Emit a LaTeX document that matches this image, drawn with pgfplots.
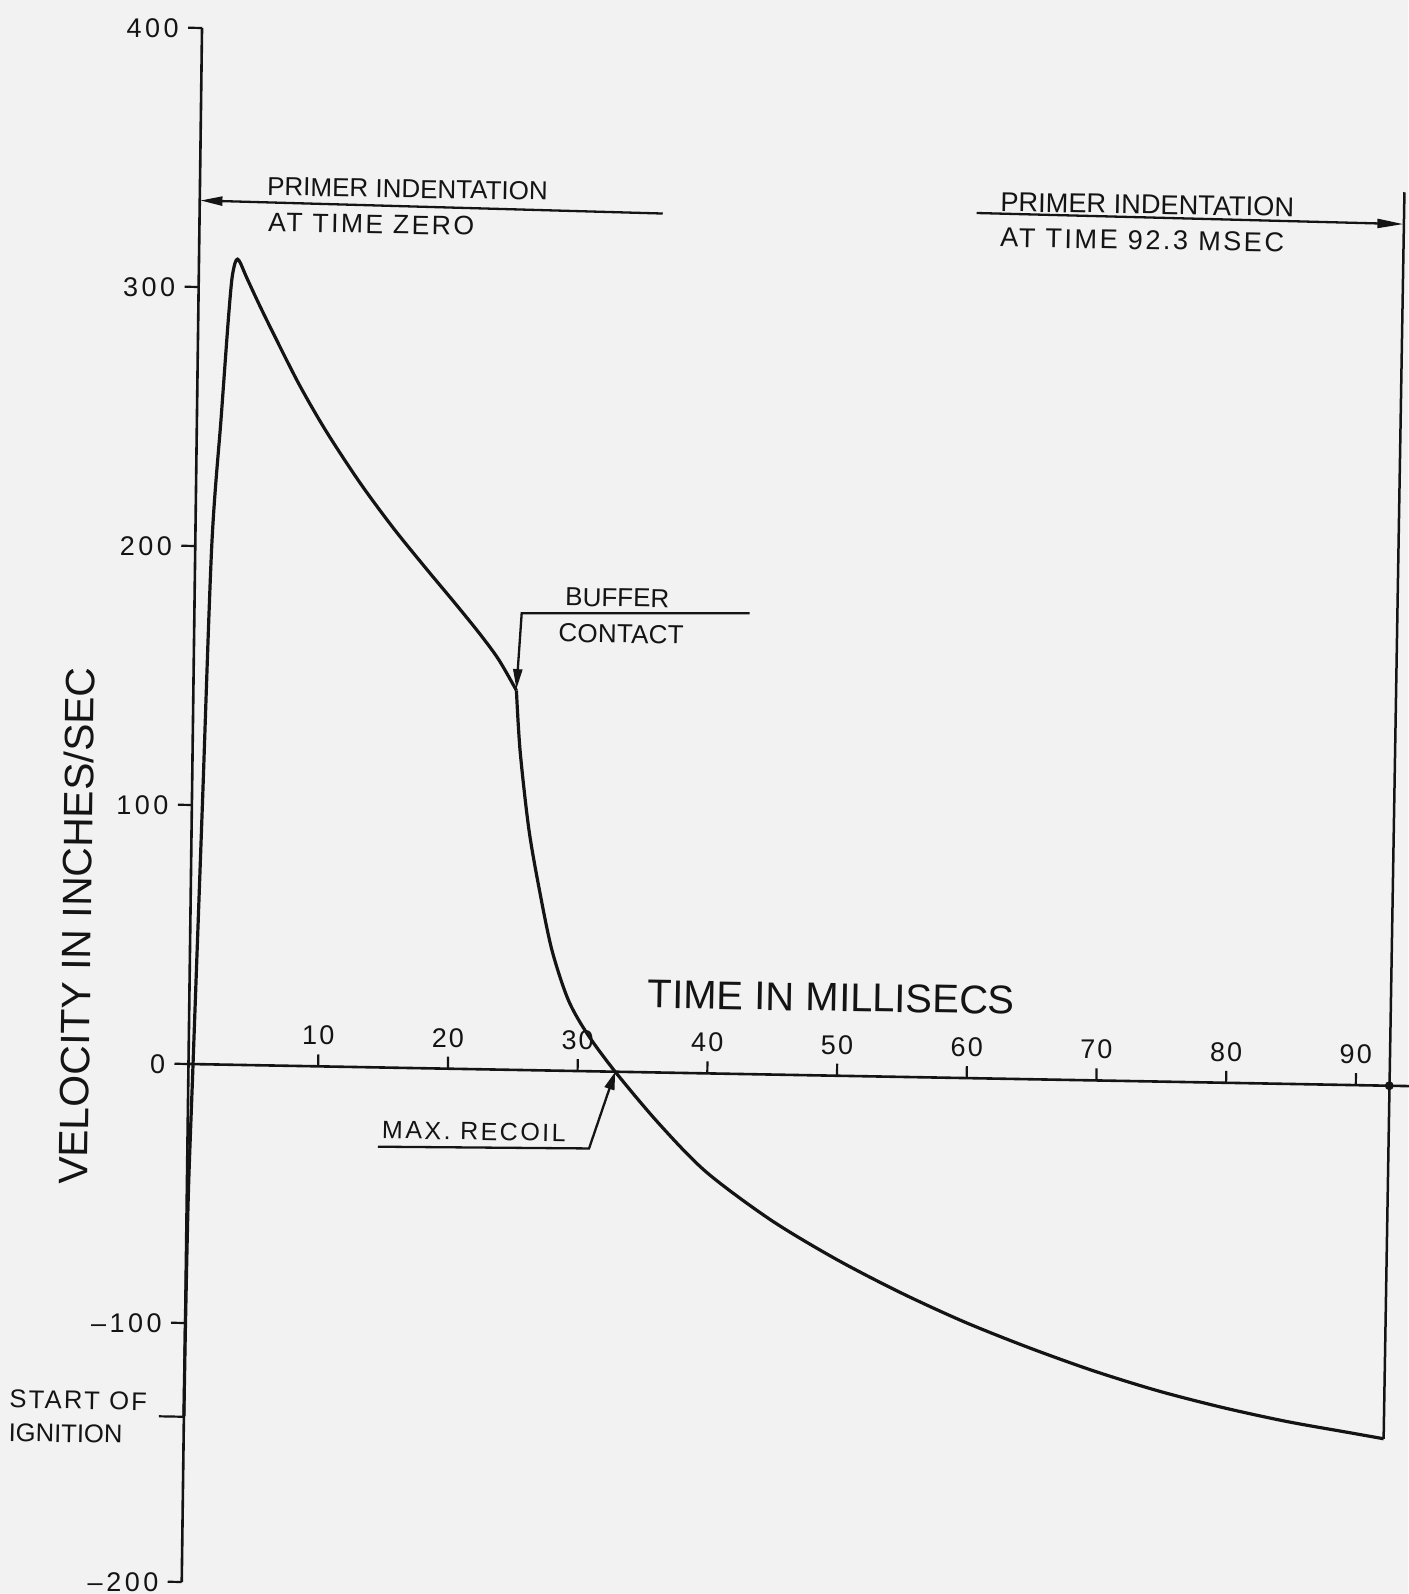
\documentclass[border=0pt]{standalone}
\usepackage{fontspec}
\setmainfont{Liberation Sans}
\usepackage{pgfplots}
\usepackage{pgfplotstable}
\pgfplotsset{compat=1.18}
\usetikzlibrary{arrows.meta}
\definecolor{bg}{RGB}{242,242,242}
\definecolor{ink}{RGB}{20,20,20}
\newcommand\fs[2]{\fontsize{#1}{#1}\selectfont\addfontfeature{LetterSpace=#2}}

\pgfplotstableread{
t v
0 -136
0.03 -100
0.12 -50
0.35 0
0.81 100
1.27 200
1.87 250
2.3 286
2.55 303
2.78 309.5
2.97 311
3.2 309.5
3.69 304
4.75 293
6.07 280
7.91 262.5
10.0 245
12.64 225.5
15.25 208.3
17.87 192.6
20.0 180.2
22.0 168.2
23.5 158.3
24.9 146.5
}\riseA

\pgfplotstableread{
t v
24.9 146.5
25.25 123
26.0 93
26.9 69
27.9 46.5
29.2 27.5
30.7 14.5
32.9 0
36.3 -19.6
40 -38
45 -56
50 -70.5
55 -83
60 -94
65 -103.5
70 -112
75 -119.3
80 -125.3
85 -130.3
90 -134.3
92.5 -136.3
}\fallB

\pgfplotsset{myax/.style={
  x={(6.485pt,-0.1175pt)}, y={(0.0169pt,1.295pt)},
  xmin=0, xmax=94.5, ymin=-200, ymax=400,
  anchor=origin, at={(0pt,0pt)},
  clip=false,
  tick style={ink, line width=1.1pt},
  hide obscured x ticks=false, hide obscured y ticks=false,
}}

\begin{document}
\begin{tikzpicture}
\useasboundingbox (-94.25pt,-265pt) rectangle (609.75pt,532pt);
\fill[bg] (-94.25pt,-265pt) rectangle (609.75pt,532pt);

% x axis
\begin{axis}[myax,
  axis x line=middle, axis y line=none,
  axis line style={ink, line width=1.3pt, -},
  every inner x axis line/.append style={-},
  x axis line style={-},
  xtick={10,20,30,40,50,60,70,80,90},
  xticklabels={10,20,30,40,50,60,70,80,90},
  ytick=\empty,
  tick align=inside, major tick length=6pt,
  xticklabel style={anchor=south, inner sep=0pt, yshift=10.5pt, font=\fs{13.5}{8}, text=ink},
]
\addplot[draw=none] coordinates {(0,0)};
\end{axis}

% y axis, data and annotations
\begin{axis}[myax,
  axis y line=middle, axis x line=none,
  axis line style={ink, line width=1.3pt, -},
  every inner y axis line/.append style={-},
  y axis line style={-},
  xtick=\empty,
  ytick={-200,-100,0,100,200,300,400},
  yticklabels={–200,–100,0,100,200,300,400},
  tick align=outside, major tick length=7pt,
  yticklabel style={anchor=east, inner sep=0pt, xshift=-4.5pt, font=\fs{13.5}{13}, text=ink},
  extra y ticks={-136.2},
  extra y tick labels={\mbox{}},
  extra y tick style={major tick length=12.5pt},
]
\addplot[ink, line width=1.6pt, smooth, tension=0.5] table {\riseA};
\addplot[ink, line width=1.6pt, smooth, tension=0.5] table {\fallB};
\addplot[ink, line width=1.25pt] coordinates {(92.5,-136.3) (92.85,345)};
\addplot[ink, only marks, mark=*, mark size=2pt] coordinates {(92.58,0)};

\draw[ink, line width=1.15pt, -{Triangle[length=11pt,width=4.5pt]}] (axis cs:35.7,331.6) -- (axis cs:0.05,333.4);
\draw[ink, line width=1.15pt, -{Triangle[length=13pt,width=4.5pt]}] (axis cs:59.9,334) -- (axis cs:92.8,332.7);
\draw[ink, line width=1.15pt, -{Triangle[length=10pt,width=4.5pt]}] (axis cs:42.8,177.9) -- (axis cs:25.23,176.3) -- (axis cs:24.9,147);
\draw[ink, line width=1.15pt, -{Triangle[length=9pt,width=5pt]}] (axis cs:14.69,-30.6) -- (axis cs:30.96,-29.8) -- (axis cs:32.9,0);

\node[anchor=west, inner sep=0pt, rotate=-1, font=\fs{13}{0}, text=ink] at (axis cs:5.15,339.3) {PRIMER INDENTATION};
\node[anchor=west, inner sep=0pt, rotate=-1, font=\fs{13.3}{9}, text=ink] at (axis cs:5.28,325.4) {AT TIME ZERO};
\node[anchor=west, inner sep=0pt, rotate=-1, font=\fs{13.6}{0}, text=ink] at (axis cs:61.69,338.4) {PRIMER INDENTATION};
\node[anchor=west, inner sep=0pt, rotate=-1, font=\fs{13.6}{9}, text=ink] at (axis cs:61.72,324.7) {AT TIME 92.3 MSEC};
\node[anchor=west, inner sep=0pt, rotate=-1, font=\fs{13}{0}, text=ink] at (axis cs:28.55,182.9) {BUFFER};
\node[anchor=west, inner sep=0pt, rotate=-1, font=\fs{13}{1}, text=ink] at (axis cs:28.05,169) {CONTACT};
\node[anchor=west, inner sep=0pt, rotate=-1, font=\fs{12.5}{10}, text=ink] at (axis cs:14.96,-24.1) {MAX. RECOIL};
\node[anchor=west, inner sep=0pt, rotate=-1, font=\fs{12.8}{8.5}, text=ink] at (axis cs:-13.48,-130.6) {START OF};
\node[anchor=west, inner sep=0pt, rotate=-1, font=\fs{12.8}{0}, text=ink] at (axis cs:-13.52,-143.5) {IGNITION};
\node[inner sep=0pt, rotate=-1, font=\fs{20}{0}, text=ink] at (axis cs:49.5,30.2) {TIME IN MILLISECS};
\node[inner sep=0pt, rotate=89.2, font=\fs{20.5}{0}, text=ink] at (axis cs:-8.77,52.5) {VELOCITY IN INCHES/SEC};
\end{axis}
\end{tikzpicture}
\end{document}
